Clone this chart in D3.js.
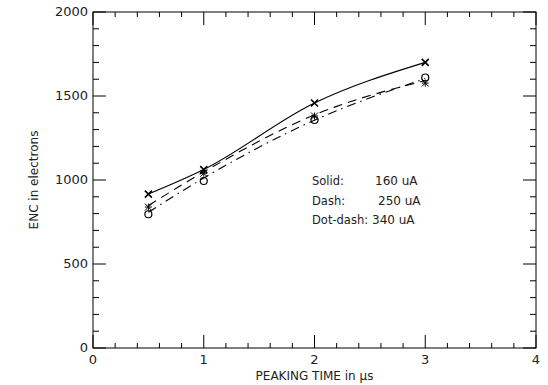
<!DOCTYPE html>
<html lang="en">
<head>
<meta charset="utf-8">
<title>ENC vs peaking time</title>
<script src="https://cdn.jsdelivr.net/npm/d3@7"></script>
<style>
  body { margin: 0; background: #fff; }
  text { font-family: "DejaVu Sans", sans-serif; fill: #222; }
</style>
</head>
<body>
<script>
// peaking time (us)
var peak = [0.5, 1, 2, 3];

// measured points
var solidPts = [916, 1062, 1458, 1700];   // x markers, 160 uA
var dashPts = [839, 1040, 1381, 1577];    // asterisks, 250 uA
var dotPts = [796, 994, 1357, 1610];      // circles, 340 uA

// fitted curves as drawn
var solidFit = [916, 1062, 1458, 1700];
var dashFit = [848, 1048, 1388, 1592];
var dotFit = [808, 1012, 1356, 1604];

var xTicks = [0, 1, 2, 3, 4];
var yTicks = [0, 500, 1000, 1500, 2000];

var legendNames = ["Solid:", "Dash:", "Dot-dash:"];
var legendVals = ["160 uA", "250 uA", "340 uA"];

var w = 548, h = 385;
var m = {top: 12, right: 10, bottom: 37, left: 93};

var svg = d3.select("body").append("svg")
  .attr("width", w).attr("height", h);

var x = d3.scaleLinear().domain([0, 4]).range([m.left, w - m.right - 2]);
var y = d3.scaleLinear().domain([0, 2000]).range([h - m.bottom, m.top]);

var x0 = x(0), x1 = x(4), y0 = y(0), y1 = y(2000);

// frame
svg.append("rect")
  .attr("x", x0).attr("y", y1)
  .attr("width", x1 - x0).attr("height", y0 - y1)
  .attr("fill", "none").attr("stroke", "#000").attr("stroke-width", 1);

var g = svg.append("g").attr("stroke", "#000").attr("stroke-width", 1);

// x ticks, bottom and top, pointing inward
d3.range(0, 4.001, 0.2).forEach(function(v) {
  var major = Math.abs(v - Math.round(v)) < 1e-6;
  var len = major ? 13 : 5;
  g.append("line").attr("x1", x(v)).attr("x2", x(v)).attr("y1", y0).attr("y2", y0 - len);
  g.append("line").attr("x1", x(v)).attr("x2", x(v)).attr("y1", y1).attr("y2", y1 + len);
});

// y ticks, left and right
d3.range(0, 2001, 100).forEach(function(v) {
  var len = v % 500 === 0 ? 13 : 6;
  g.append("line").attr("x1", x0).attr("x2", x0 + len).attr("y1", y(v)).attr("y2", y(v));
  g.append("line").attr("x1", x1).attr("x2", x1 - len).attr("y1", y(v)).attr("y2", y(v));
});

// tick labels
svg.selectAll(".xl").data(xTicks).enter().append("text")
  .attr("x", function(d) { return x(d); })
  .attr("y", y0 + 16)
  .attr("text-anchor", "middle")
  .attr("font-size", 13)
  .text(function(d) { return d; });

svg.selectAll(".yl").data(yTicks).enter().append("text")
  .attr("x", x0 - 5)
  .attr("y", function(d) { return y(d) + 4; })
  .attr("text-anchor", "end")
  .attr("font-size", 13)
  .text(function(d) { return d; });

// axis titles
svg.append("text")
  .attr("x", (x0 + x1) / 2).attr("y", h - 5)
  .attr("text-anchor", "middle").attr("font-size", 12)
  .text("PEAKING TIME in \u03bcs");

svg.append("text")
  .attr("transform", "translate(38," + y(1000) + ") rotate(-90)")
  .attr("text-anchor", "middle").attr("font-size", 12)
  .text("ENC in electrons");

// curves
var line = d3.line()
  .x(function(d, i) { return x(peak[i]); })
  .y(function(d) { return y(d); })
  .curve(d3.curveMonotoneX);

svg.append("path").attr("d", line(solidFit))
  .attr("fill", "none").attr("stroke", "#000").attr("stroke-width", 1.1);
svg.append("path").attr("d", line(dashFit))
  .attr("fill", "none").attr("stroke", "#000").attr("stroke-width", 1.1)
  .attr("stroke-dasharray", "9,6");
svg.append("path").attr("d", line(dotFit))
  .attr("fill", "none").attr("stroke", "#000").attr("stroke-width", 1.1)
  .attr("stroke-dasharray", "9,5,1.5,5");

// markers
var s = 3.5;
solidPts.forEach(function(v, i) {
  var cx = x(peak[i]), cy = y(v);
  g.append("path").attr("stroke-width", 1.6)
    .attr("d", "M" + (cx - s) + "," + (cy - s) + "L" + (cx + s) + "," + (cy + s) +
               "M" + (cx - s) + "," + (cy + s) + "L" + (cx + s) + "," + (cy - s));
});
dashPts.forEach(function(v, i) {
  var cx = x(peak[i]), cy = y(v);
  g.append("path").attr("stroke-width", 1)
    .attr("d", "M" + (cx - s) + "," + (cy - s) + "L" + (cx + s) + "," + (cy + s) +
               "M" + (cx - s) + "," + (cy + s) + "L" + (cx + s) + "," + (cy - s) +
               "M" + cx + "," + (cy - s) + "L" + cx + "," + (cy + s) +
               "M" + (cx - s) + "," + cy + "L" + (cx + s) + "," + cy);
});
dotPts.forEach(function(v, i) {
  g.append("circle").attr("cx", x(peak[i])).attr("cy", y(v)).attr("r", 3.5)
    .attr("fill", "none").attr("stroke-width", 1.2);
});

// legend
var lx = 312, ly = 185;
legendNames.forEach(function(n, i) {
  svg.append("text").attr("x", lx).attr("y", ly + i * 19.5)
    .attr("font-size", 11.5).text(n);
});
var valX = [375, 378, 372];
legendVals.forEach(function(v, i) {
  svg.append("text").attr("x", valX[i]).attr("y", ly + i * 19.5)
    .attr("font-size", 12).text(v);
});
</script>
</body>
</html>
